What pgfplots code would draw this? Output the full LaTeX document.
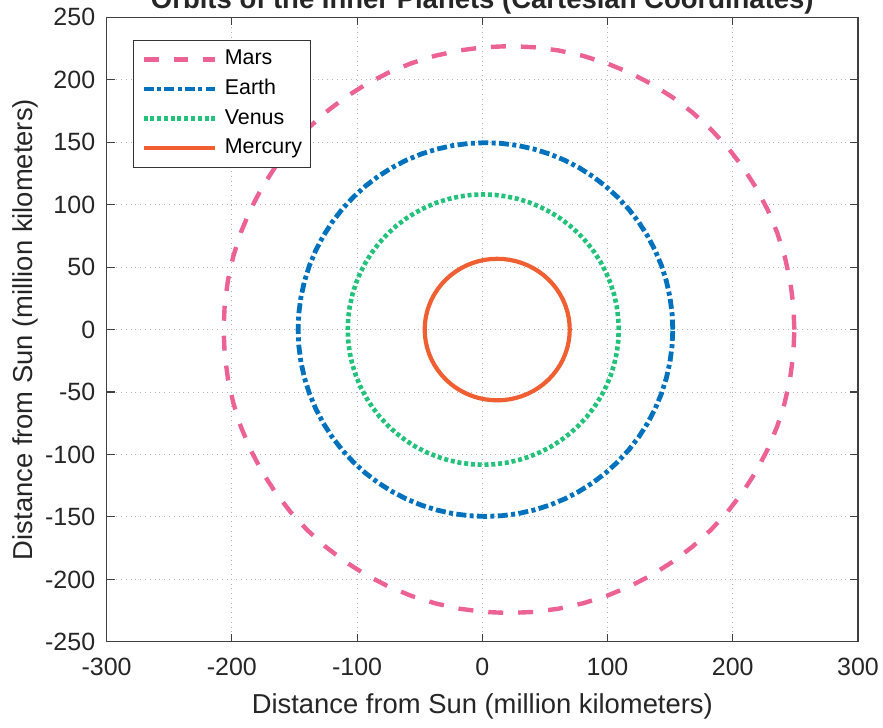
\documentclass[border=0pt]{standalone}
\usepackage{fontspec}
\setmainfont{Liberation Sans}
\usepackage{pgfplots}
\pgfplotsset{compat=1.18}

\definecolor{marscol}{RGB}{237,98,148}
\definecolor{earthcol}{RGB}{0,114,189}
\definecolor{venuscol}{RGB}{34,194,122}
\definecolor{mercurycol}{RGB}{240,95,50}

\begin{document}
\begin{tikzpicture}
\begin{axis}[
  at={(0,0)}, anchor=south west,
  scale only axis, width=375.95pt, height=312.5pt,
  xmin=-300, xmax=300, ymin=-250, ymax=250,
  xtick={-300,-200,...,300}, ytick={-250,-200,...,250},
  tick align=inside, major tick length=4pt,
  grid=major, grid style={dotted, gray!60, line width=0.5pt},
  axis line style={black!75, line width=0.55pt},
  every tick/.style={black!75, line width=0.55pt},
  /pgf/number format/assume math mode=true,
  tick label style={font=\fontsize{12.5}{14}\selectfont, text=black!85},
  yticklabel style={xshift=-2.2pt},
  xticklabel style={yshift=-4.8pt},
  title={Orbits of the Inner Planets (Cartesian Coordinates)},
  every axis title/.style={font=\bfseries\fontsize{13.75}{16}\selectfont, text=black!85,
    at={(axis description cs:0.5,1)}, anchor=base, yshift=4.6pt},
  xlabel={Distance from Sun (million kilometers)},
  ylabel={Distance from Sun (million kilometers)},
  xlabel style={font=\fontsize{13.7}{16}\selectfont, text=black!85,
    at={(axis description cs:0.5,-0.1035)}, anchor=center},
  ylabel style={font=\fontsize{13.7}{16}\selectfont, text=black!85,
    at={(axis description cs:-0.1087,0.5)}, anchor=center},
  legend cell align=left,
  legend image code/.code={\draw[#1] (0pt,0pt) -- (36pt,0pt);},
  legend style={at={(0.0346,0.9637)}, anchor=north west,
    draw=black!80, line width=0.5pt, fill=white,
    font=\fontsize{10.7}{12}\selectfont,
    inner xsep=4pt, inner ysep=4.5pt, row sep=4.83pt, column sep=3.5pt,
    nodes={inner sep=0pt, text height=7.7pt, text depth=2.3pt}},
]

% Mars
\addplot[marscol, line width=2.2pt, line cap=butt, dash pattern=on 7.5pt off 7.5pt] coordinates {
(249.2,0) (248.33,19.78) (245.74,39.4) (241.44,58.73) (235.46,77.6) (227.85,95.89)
(218.67,113.45) (207.98,130.15) (195.88,145.85) (182.45,160.44) (167.79,173.81)
(152.02,185.87) (135.25,196.5) (117.62,205.64) (99.25,213.22) (80.29,219.17)
(60.87,223.45) (41.16,226.04) (21.3,226.9)
(1.44,226.04) (-18.27,223.45) (-37.69,219.17) (-56.65,213.22) (-75.02,205.64)
(-92.65,196.5) (-109.42,185.87) (-125.19,173.81) (-139.85,160.44) (-153.28,145.85)
(-165.38,130.15) (-176.07,113.45) (-185.25,95.89) (-192.86,77.6) (-198.84,58.73)
(-203.14,39.4) (-205.73,19.78) (-206.6,0)
(-205.73,-19.78) (-203.14,-39.4) (-198.84,-58.73) (-192.86,-77.6) (-185.25,-95.89)
(-176.07,-113.45) (-165.38,-130.15) (-153.28,-145.85) (-139.85,-160.44) (-125.19,-173.81)
(-109.42,-185.87) (-92.65,-196.5) (-75.02,-205.64) (-56.65,-213.22) (-37.69,-219.17)
(-18.27,-223.45) (1.44,-226.04) (21.3,-226.9)
(41.16,-226.04) (60.87,-223.45) (80.29,-219.17) (99.25,-213.22) (117.62,-205.64)
(135.25,-196.5) (152.02,-185.87) (167.79,-173.81) (182.45,-160.44) (195.88,-145.85)
(207.98,-130.15) (218.67,-113.45) (227.85,-95.89) (235.46,-77.6) (241.44,-58.73)
(245.74,-39.4) (248.33,-19.78) (249.2,0)
};
\addlegendentry{Mars}

% Earth
\addplot[earthcol, line width=2.4pt, line cap=butt, dash pattern=on 5pt off 1.7pt on 2pt off 1.7pt] coordinates {
(152.1,0) (151.53,13.04) (149.83,25.98) (147.0,38.72) (143.08,51.17) (138.08,63.22)
(132.06,74.8) (125.04,85.81) (117.1,96.16) (108.28,105.78) (98.66,114.6)
(88.31,122.54) (77.3,129.56) (65.72,135.58) (53.67,140.58) (41.22,144.5)
(28.48,147.33) (15.54,149.03) (2.5,149.6)
(-10.54,149.03) (-23.48,147.33) (-36.22,144.5) (-48.67,140.58) (-60.72,135.58)
(-72.3,129.56) (-83.31,122.54) (-93.66,114.6) (-103.28,105.78) (-112.1,96.16)
(-120.04,85.81) (-127.06,74.8) (-133.08,63.22) (-138.08,51.17) (-142.0,38.72)
(-144.83,25.98) (-146.53,13.04) (-147.1,0)
(-146.53,-13.04) (-144.83,-25.98) (-142.0,-38.72) (-138.08,-51.17) (-133.08,-63.22)
(-127.06,-74.8) (-120.04,-85.81) (-112.1,-96.16) (-103.28,-105.78) (-93.66,-114.6)
(-83.31,-122.54) (-72.3,-129.56) (-60.72,-135.58) (-48.67,-140.58) (-36.22,-144.5)
(-23.48,-147.33) (-10.54,-149.03) (2.5,-149.6)
(15.54,-149.03) (28.48,-147.33) (41.22,-144.5) (53.67,-140.58) (65.72,-135.58)
(77.3,-129.56) (88.31,-122.54) (98.66,-114.6) (108.28,-105.78) (117.1,-96.16)
(125.04,-85.81) (132.06,-74.8) (138.08,-63.22) (143.08,-51.17) (147.0,-38.72)
(149.83,-25.98) (151.53,-13.04) (152.1,0)
};
\addlegendentry{Earth}

% Venus
\addplot[venuscol, line width=2.3pt, line cap=butt, dash pattern=on 2pt off 1.4pt] coordinates {
(108.94,0) (108.53,9.43) (107.3,18.79) (105.25,28) (102.41,37.01) (98.8,45.73)
(94.44,54.1) (89.37,62.06) (83.63,69.55) (77.25,76.51) (70.29,82.89) (62.8,88.63)
(54.84,93.7) (46.47,98.06) (37.75,101.67) (28.74,104.51) (19.53,106.56) (10.17,107.79)
(0.74,108.2)
(-8.69,107.79) (-18.05,106.56) (-27.26,104.51) (-36.27,101.67) (-44.99,98.06)
(-53.36,93.7) (-61.32,88.63) (-68.81,82.89) (-75.77,76.51) (-82.15,69.55)
(-87.89,62.06) (-92.96,54.1) (-97.32,45.73) (-100.93,37.01) (-103.77,28)
(-105.82,18.79) (-107.05,9.43) (-107.46,0)
(-107.05,-9.43) (-105.82,-18.79) (-103.77,-28) (-100.93,-37.01) (-97.32,-45.73)
(-92.96,-54.1) (-87.89,-62.06) (-82.15,-69.55) (-75.77,-76.51) (-68.81,-82.89)
(-61.32,-88.63) (-53.36,-93.7) (-44.99,-98.06) (-36.27,-101.67) (-27.26,-104.51)
(-18.05,-106.56) (-8.69,-107.79) (0.74,-108.2)
(10.17,-107.79) (19.53,-106.56) (28.74,-104.51) (37.75,-101.67) (46.47,-98.06)
(54.84,-93.7) (62.8,-88.63) (70.29,-82.89) (77.25,-76.51) (83.63,-69.55)
(89.37,-62.06) (94.44,-54.1) (98.8,-45.73) (102.41,-37.01) (105.25,-28)
(107.3,-18.79) (108.53,-9.43) (108.94,0)
};
\addlegendentry{Venus}

% Mercury
\addplot[mercurycol, line width=2.1pt] coordinates {
(69.8,0) (69.58,4.94) (68.92,9.84) (67.83,14.66) (66.31,19.38) (64.38,23.95)
(62.04,28.33) (59.33,32.5) (56.25,36.42) (52.84,40.07) (49.12,43.4) (45.11,46.41)
(40.85,49.07) (36.37,51.35) (31.7,53.24) (26.89,54.73) (21.95,55.8) (16.95,56.44)
(11.9,56.66)
(6.85,56.44) (1.85,55.8) (-3.09,54.73) (-7.9,53.24) (-12.57,51.35) (-17.05,49.07)
(-21.31,46.41) (-25.32,43.4) (-29.04,40.07) (-32.45,36.42) (-35.53,32.5)
(-38.24,28.33) (-40.58,23.95) (-42.51,19.38) (-44.03,14.66) (-45.12,9.84)
(-45.78,4.94) (-46,0)
(-45.78,-4.94) (-45.12,-9.84) (-44.03,-14.66) (-42.51,-19.38) (-40.58,-23.95)
(-38.24,-28.33) (-35.53,-32.5) (-32.45,-36.42) (-29.04,-40.07) (-25.32,-43.4)
(-21.31,-46.41) (-17.05,-49.07) (-12.57,-51.35) (-7.9,-53.24) (-3.09,-54.73)
(1.85,-55.8) (6.85,-56.44) (11.9,-56.66)
(16.95,-56.44) (21.95,-55.8) (26.89,-54.73) (31.7,-53.24) (36.37,-51.35)
(40.85,-49.07) (45.11,-46.41) (49.12,-43.4) (52.84,-40.07) (56.25,-36.42)
(59.33,-32.5) (62.04,-28.33) (64.38,-23.95) (66.31,-19.38) (67.83,-14.66)
(68.92,-9.84) (69.58,-4.94) (69.8,0)
};
\addlegendentry{Mercury}

\end{axis}
% page frame: the title sits partly above the top edge
\pgfresetboundingbox
\useasboundingbox (-53.35pt,-42.85pt) rectangle (388.45pt,321.15pt);
\end{tikzpicture}
\end{document}
